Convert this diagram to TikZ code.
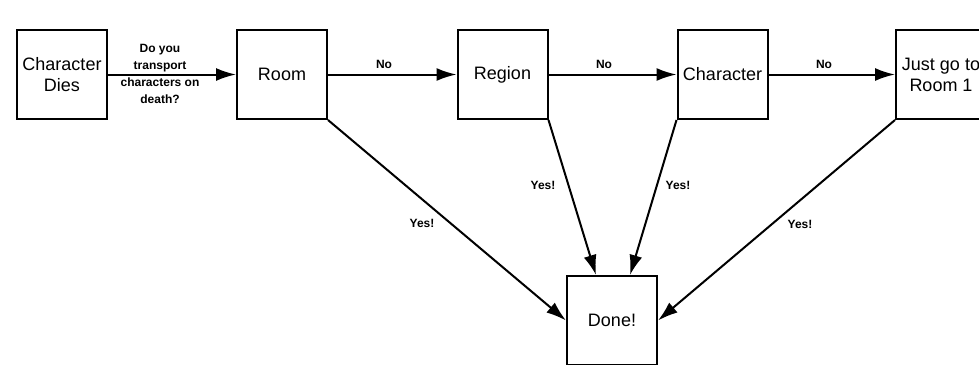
\documentclass[tikz,border=0pt]{standalone}
\usepackage{fontspec}
\setmainfont{Liberation Sans}
\usetikzlibrary{arrows.meta}

\tikzset{
	box/.style={draw, line width=2pt, minimum width=90pt, minimum height=89pt,
		inner sep=0pt, align=center, font=\fontsize{18}{21}\selectfont},
	lbl/.style={align=center, inner sep=0pt, font=\bfseries\fontsize{12}{17}\selectfont},
	flow/.style={line width=2pt, -{Latex[length=20pt,width=13pt]}}
}

\begin{document}
\begin{tikzpicture}[x=1pt, y=-1pt]
		\useasboundingbox (0,0) rectangle (979,364);

		% top row
		\node[box] (dies) at (62,74.5) {Character\\Dies};
		\node[box] (room) at (282,74.5) {Room};
		\node[box] (region) at (502.5,74.5) {Region};
		\node[box] (char) at (722.5,74.5) {Character};
		\node[box] (jump) at (941,74.5) {Just go to\\Room 1};
		% end
		\node[box] (done) at (612,320.5) {Done!};

		\draw[flow] (dies) -- (room);
		\draw[flow] (room) -- (region);
		\draw[flow] (region) -- (char);
		\draw[flow] (char) -- (jump);

		\draw[flow] (room.south east) -- (done.west);
		\draw[flow] (region.south east) -- ([xshift=-16pt]done.north);
		\draw[flow] (char.south west) -- ([xshift=18pt]done.north);
		\draw[flow] (jump.south west) -- (done.east);

		\node[lbl] (ask) at (160,74) {Do you\\transport\\characters on\\death?};
		\node[lbl] (no1) at (384,64) {No};
		\node[lbl] (no2) at (604,64) {No};
		\node[lbl] (no3) at (824,64) {No};
		\node[lbl] (yes1) at (422,223) {Yes!};
		\node[lbl] (yes2) at (543,185) {Yes!};
		\node[lbl] (yes3) at (678,185) {Yes!};
		\node[lbl] (yes4) at (800,224) {Yes!};
	\end{tikzpicture}
\end{document}
